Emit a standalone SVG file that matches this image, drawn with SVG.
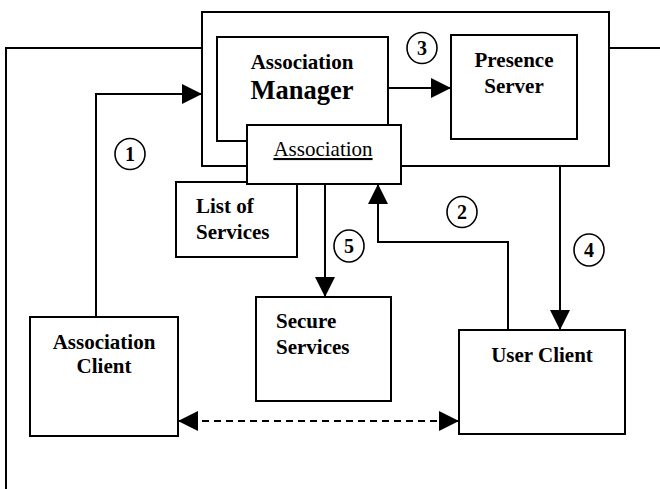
<svg xmlns="http://www.w3.org/2000/svg" width="660" height="489" viewBox="0 0 660 489">
  <style>
    .box { fill: #fff; stroke: #000; stroke-width: 2; }
    .frame { fill: none; stroke: #000; stroke-width: 2; }
    .wire { fill: none; stroke: #000; stroke-width: 2; }
    .dash { fill: none; stroke: #000; stroke-width: 2; stroke-dasharray: 7 5; }
    .lbl { font-family: "Liberation Serif", "Times New Roman", serif; font-size: 21px; font-weight: bold; fill: #000; }
    .big { font-size: 26.5px; }
    .plain { font-weight: normal; text-decoration: underline; }
    .num { font-family: "Liberation Serif", "Times New Roman", serif; font-size: 20px; font-weight: bold; fill: #000; text-anchor: middle; }
    .ring { fill: #fff; stroke: #000; stroke-width: 1.6; }
  </style>
  <defs>
    <marker id="head" markerUnits="userSpaceOnUse" markerWidth="20" markerHeight="20" viewBox="0 0 20 20" refX="20" refY="10" orient="auto-start-reverse">
      <path d="M0,0 L20,10 L0,20 Z" fill="#000"/>
    </marker>
  </defs>

  <!-- outer bus line wrapping the server frame -->
  <g id="bus">
    <path class="wire" d="M6,489 V48 H202"/>
    <path class="wire" d="M609,48 H660"/>
  </g>

  <!-- server frame -->
  <g id="server-frame">
    <rect class="frame" x="202" y="12" width="407" height="154"/>
  </g>

  <g id="association-manager">
    <rect class="box" x="217" y="37" width="171" height="104"/>
    <text class="lbl" x="302" y="69" text-anchor="middle">Association</text>
    <text class="lbl big" x="302" y="99" text-anchor="middle">Manager</text>
  </g>

  <g id="list-of-services">
    <rect class="box" x="176" y="182" width="121" height="75"/>
    <text class="lbl" x="196" y="213">List of</text>
    <text class="lbl" x="196" y="239">Services</text>
  </g>

  <g id="association">
    <rect class="box" x="247" y="125" width="154" height="59"/>
    <text class="lbl plain" x="323" y="156" text-anchor="middle">Association</text>
  </g>

  <g id="presence-server">
    <rect class="box" x="451" y="35" width="126" height="104"/>
    <text class="lbl" x="514" y="67" text-anchor="middle">Presence</text>
    <text class="lbl" x="514" y="93" text-anchor="middle">Server</text>
  </g>

  <g id="secure-services">
    <rect class="box" x="256" y="297" width="135" height="104"/>
    <text class="lbl" x="276" y="328">Secure</text>
    <text class="lbl" x="276" y="354">Services</text>
  </g>

  <g id="association-client">
    <rect class="box" x="30" y="317" width="148" height="119"/>
    <text class="lbl" x="104" y="349" text-anchor="middle">Association</text>
    <text class="lbl" x="104" y="373" text-anchor="middle">Client</text>
  </g>

  <g id="user-client">
    <rect class="box" x="459" y="330" width="166" height="104"/>
    <text class="lbl" x="542" y="362" text-anchor="middle">User Client</text>
  </g>

  <!-- connectors -->
  <g id="connectors">
    <path class="wire" d="M96,317 V94 H202" marker-end="url(#head)"/>
    <path class="wire" d="M508,330 V242 H378 V184" marker-end="url(#head)"/>
    <path class="wire" d="M388,88 H451" marker-end="url(#head)"/>
    <path class="wire" d="M560,166 V330" marker-end="url(#head)"/>
    <path class="wire" d="M325,184 V297" marker-end="url(#head)"/>
    <path class="dash" d="M178,421 H459" marker-start="url(#head)" marker-end="url(#head)"/>
  </g>

  <!-- step numbers -->
  <g id="steps">
    <ellipse class="ring" cx="130" cy="154" rx="15" ry="15.5"/>
    <text class="num" x="130" y="161">1</text>
    <ellipse class="ring" cx="462" cy="212" rx="15" ry="15.5"/>
    <text class="num" x="462" y="219">2</text>
    <ellipse class="ring" cx="422" cy="48" rx="15" ry="15.5"/>
    <text class="num" x="422" y="55">3</text>
    <ellipse class="ring" cx="589" cy="250" rx="15" ry="16"/>
    <text class="num" x="589" y="257">4</text>
    <ellipse class="ring" cx="349" cy="246" rx="15" ry="16"/>
    <text class="num" x="349" y="253">5</text>
  </g>
</svg>
